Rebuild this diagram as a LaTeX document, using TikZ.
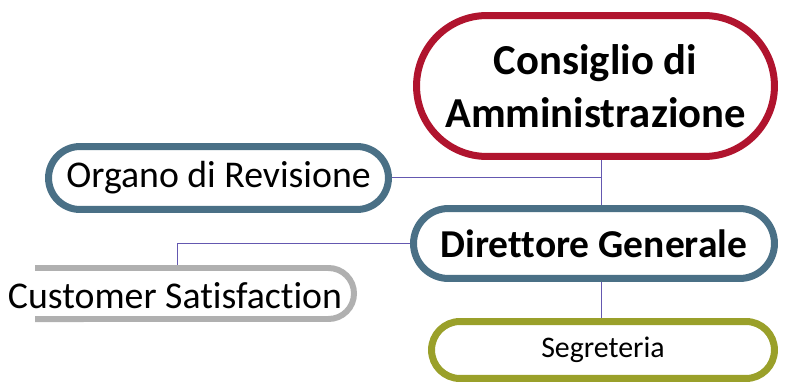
\documentclass[tikz,border=0pt]{standalone}
\usepackage{fontspec}
\setmainfont{Carlito}[Ligatures=NoCommon]
\usetikzlibrary{shapes.misc}

\definecolor{boardred}{RGB}{176,20,46}
\definecolor{steelblue}{RGB}{74,112,134}
\definecolor{olive}{RGB}{154,160,42}
\definecolor{shadegray}{RGB}{176,176,176}
\definecolor{linkviolet}{RGB}{100,88,176}

\tikzset{
  pill/.style={rounded rectangle, draw, line width=0.14cm, fill=white, align=center, inner sep=0pt},
  link/.style={draw=linkviolet, line width=0.02cm}
}

\begin{document}
\begin{tikzpicture}[x=0.02cm,y=-0.02cm]
          %page frame
          \useasboundingbox (0,0) rectangle (785,385);

          %boxes
          \node[pill, draw=boardred, minimum width=7.16cm, minimum height=2.82cm,
                font=\fontsize{24.3}{30}\selectfont\bfseries] (cda) at (595.5,86) {Consiglio di\\Amministrazione};
          \node[pill, draw=steelblue, minimum width=6.8cm, minimum height=1.26cm,
                font=\fontsize{21.5}{26}\selectfont] (org) at (218.5,178) {Organo di Revisione};
          \node[pill, draw=steelblue, minimum width=7.22cm, minimum height=1.4cm,
                font=\fontsize{22.5}{27}\selectfont\bfseries] (dg) at (594,243.5) {Direttore Generale};
          \node[pill, draw=olive, minimum width=6.86cm, minimum height=1.14cm,
                font=\fontsize{17}{20}\selectfont] (seg) at (603,350) {Segreteria};

          %open box on the left edge
          \draw[shadegray, line width=0.12cm] (35,268) -- (328.5,268)
                arc[start angle=-90, end angle=90, radius=25.5] -- (35,319);
          \node[font=\fontsize{21.5}{26}\selectfont] (cs) at (175,296) {Customer Satisfaction};
          \coordinate (cstop) at (177,265);

          %connectors
          \coordinate (spine) at (601,0);
          \draw[link] (spine |- cda.south) -- (spine |- dg.north);
          \draw[link] (org.east) -- (org.east -| spine);
          \draw[link] (dg.west) -| (cstop);
          \draw[link] (spine |- dg.south) -- (spine |- seg.north);
\end{tikzpicture}
\end{document}
